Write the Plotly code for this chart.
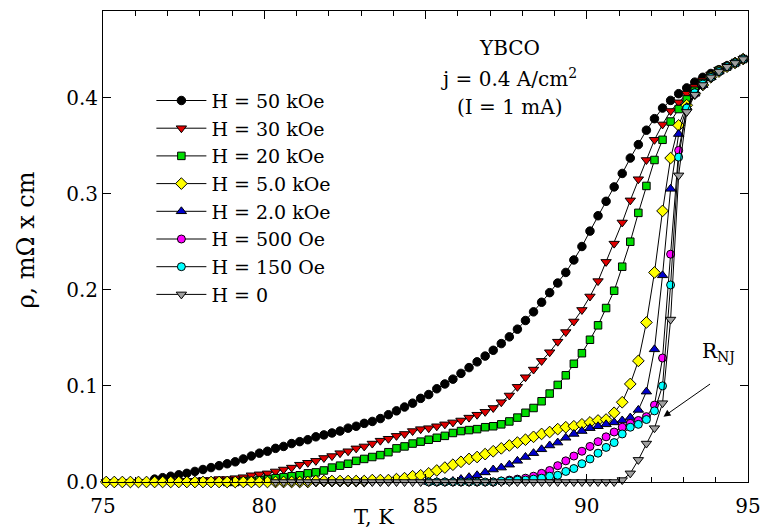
import plotly.graph_objects as go

# ---- data (T in K, rho in mOhm*cm); each series sampled every 0.25 K from its start temperature ----
step = 0.25
labels = ["H = 50 kOe", "H = 30 kOe", "H = 20 kOe", "H = 5.0 kOe",
          "H = 2.0 kOe", "H = 500 Oe", "H = 150 Oe", "H = 0"]
t_start = [76.6, 75.1, 78.85, 75.1, 85.1, 87.1, 85.1, 80.35]

rho_50k = [0.003, 0.0045, 0.006, 0.0075, 0.009, 0.011, 0.013, 0.015, 0.017, 0.019,
           0.021, 0.024, 0.027, 0.030, 0.032, 0.035, 0.037, 0.040, 0.042, 0.044,
           0.047, 0.049, 0.051, 0.053, 0.056, 0.058, 0.061, 0.063, 0.066, 0.070,
           0.074, 0.078, 0.082, 0.087, 0.091, 0.097, 0.102, 0.107, 0.113, 0.119,
           0.125, 0.131, 0.137, 0.144, 0.151, 0.159, 0.168, 0.177, 0.187, 0.197,
           0.207, 0.218, 0.231, 0.245, 0.261, 0.277, 0.292, 0.307, 0.321, 0.337,
           0.351, 0.366, 0.378, 0.389, 0.397, 0.404, 0.410, 0.416, 0.421, 0.425,
           0.429, 0.433, 0.436, 0.440]

rho_30k = [0.000, 0.000, 0.000, 0.000, 0.000, 0.000, 0.000, 0.000, 0.000, 0.001,
           0.001, 0.001, 0.002, 0.002, 0.003, 0.003, 0.004, 0.005, 0.007, 0.008,
           0.009, 0.011, 0.013, 0.015, 0.018, 0.020, 0.022, 0.025, 0.027, 0.030,
           0.032, 0.035, 0.037, 0.040, 0.043, 0.045, 0.048, 0.050, 0.053, 0.055,
           0.056, 0.058, 0.060, 0.062, 0.064, 0.067, 0.070, 0.073, 0.077, 0.083,
           0.090, 0.099, 0.109, 0.117, 0.126, 0.135, 0.146, 0.156, 0.167, 0.179,
           0.193, 0.209, 0.229, 0.248, 0.270, 0.293, 0.315, 0.335, 0.356, 0.372,
           0.386, 0.395, 0.404, 0.411, 0.418, 0.424, 0.429, 0.433, 0.436, 0.440]

rho_20k = [0.000, 0.000, 0.001, 0.001, 0.002, 0.003, 0.004, 0.005, 0.006, 0.007,
           0.009, 0.010, 0.012, 0.015, 0.017, 0.019, 0.022, 0.024, 0.026, 0.028,
           0.031, 0.035, 0.037, 0.040, 0.042, 0.044, 0.046, 0.048, 0.051, 0.053,
           0.054, 0.055, 0.057, 0.058, 0.060, 0.063, 0.067, 0.072, 0.077, 0.084,
           0.092, 0.101, 0.111, 0.123, 0.134, 0.148, 0.163, 0.181, 0.199, 0.224,
           0.250, 0.280, 0.308, 0.335, 0.356, 0.375, 0.388, 0.398, 0.407, 0.415,
           0.422, 0.428, 0.432, 0.436, 0.440]

rho_5k = [0.000, 0.000, 0.000, 0.000, 0.000, 0.000, 0.000, 0.000, 0.000, 0.000,
          0.000, 0.000, 0.000, 0.000, 0.000, 0.000, 0.000, 0.000, 0.000, 0.000,
          0.000, 0.000, 0.000, 0.000, 0.000, 0.000, 0.001, 0.001, 0.001, 0.001,
          0.001, 0.001, 0.001, 0.002, 0.002, 0.002, 0.003, 0.004, 0.006, 0.007,
          0.009, 0.012, 0.015, 0.018, 0.021, 0.024, 0.026, 0.029, 0.032, 0.035,
          0.038, 0.041, 0.044, 0.047, 0.050, 0.052, 0.055, 0.057, 0.058, 0.060,
          0.062, 0.064, 0.065, 0.072, 0.083, 0.102, 0.126, 0.166, 0.218, 0.282,
          0.337, 0.371, 0.392, 0.404, 0.413, 0.421, 0.427, 0.432, 0.436, 0.440]

rho_2k = [0.000, 0.000, 0.000, 0.001, 0.003, 0.005, 0.007, 0.010, 0.013, 0.015,
          0.018, 0.022, 0.026, 0.030, 0.034, 0.038, 0.041, 0.046, 0.050, 0.053,
          0.056, 0.058, 0.060, 0.062, 0.064, 0.067, 0.075, 0.094, 0.138, 0.215,
          0.305, 0.362, 0.390, 0.404, 0.413, 0.421, 0.427, 0.432, 0.436, 0.440]

rho_500 = [0.000, 0.001, 0.002, 0.003, 0.004, 0.006, 0.009, 0.012, 0.017, 0.022,
           0.027, 0.032, 0.037, 0.042, 0.047, 0.052, 0.057, 0.061, 0.064, 0.068,
           0.080, 0.129, 0.237, 0.345, 0.388, 0.404, 0.413, 0.421, 0.427, 0.432,
           0.436, 0.440]

rho_150 = [0.000, 0.000, 0.000, 0.000, 0.000, 0.000, 0.000, 0.000, 0.000, 0.001,
           0.001, 0.002, 0.002, 0.003, 0.004, 0.006, 0.007, 0.011, 0.014, 0.019,
           0.024, 0.030, 0.036, 0.041, 0.050, 0.057, 0.060, 0.065, 0.074, 0.100,
           0.205, 0.338, 0.389, 0.405, 0.414, 0.421, 0.427, 0.432, 0.436, 0.440]

rho_0 = [0.000, 0.000, 0.000, 0.000, 0.000, 0.000, 0.000, 0.000, 0.000, 0.000,
         0.000, 0.000, 0.000, 0.000, 0.000, 0.000, 0.000, 0.000, 0.000, 0.000,
         0.000, 0.000, 0.000, 0.000, 0.000, 0.000, 0.000, 0.000, 0.000, 0.000,
         0.000, 0.000, 0.000, 0.000, 0.000, 0.000, 0.000, 0.000, 0.000, 0.000,
         0.000, 0.000, 0.000, 0.002, 0.009, 0.023, 0.040, 0.056, 0.082, 0.169,
         0.319, 0.385, 0.403, 0.413, 0.421, 0.427, 0.432, 0.436, 0.440]

series = [rho_50k, rho_30k, rho_20k, rho_5k, rho_2k, rho_500, rho_150, rho_0]

symbols = ["circle", "triangle-down", "square", "diamond", "triangle-up",
           "circle", "circle", "triangle-down"]
fills = ["#000000", "#e00000", "#00dd00", "#ffff00", "#0000cc",
         "#ff00ff", "#00ffff", "#a0a0a0"]
sizes = [8.5, 9, 7.5, 9, 9, 8, 8, 9]

FONT = "DejaVu Serif"

fig = go.Figure()
for lab, t0, rho, sym, col, sz in zip(labels, t_start, series, symbols, fills, sizes):
    temps = [round(t0 + step * i, 3) for i in range(len(rho))]
    fig.add_trace(go.Scatter(
        x=temps, y=rho, name=lab, mode="lines+markers",
        line=dict(color="black", width=1),
        marker=dict(symbol=sym, size=sz, color=col, line=dict(color="black", width=1)),
        cliponaxis=False,
    ))

fig.update_layout(
    width=771, height=530,
    margin=dict(l=103, r=12, t=10, b=48),
    paper_bgcolor="white", plot_bgcolor="white",
    font=dict(family=FONT, size=19, color="black"),
    showlegend=True,
    legend=dict(x=0.075, y=0.85, xanchor="left", yanchor="top",
                bgcolor="rgba(0,0,0,0)", itemwidth=50,
                font=dict(family=FONT, size=19), tracegroupgap=0),
    xaxis=dict(range=[75, 95], dtick=5, tick0=75, showline=True, linecolor="black",
               linewidth=1, mirror="ticks", ticks="inside", ticklen=8, tickcolor="black",
               showgrid=False, zeroline=False, ticklabelstandoff=6,
               ticklabeloverflow="allow",
               minor=dict(dtick=1, ticks="inside", ticklen=5, tickcolor="black"),
               tickfont=dict(family=FONT, size=20)),
    yaxis=dict(range=[0, 0.49], dtick=0.1, tick0=0, tickformat=".1f", showline=True,
               linecolor="black", linewidth=1, mirror="ticks", ticks="inside",
               ticklen=8, tickcolor="black", showgrid=False, zeroline=False,
               ticklabeloverflow="allow",
               tickfont=dict(family=FONT, size=20)),
)

ann = dict(showarrow=False, font=dict(family=FONT, size=20, color="black"))
fig.add_annotation(text="T, K", xref="paper", yref="paper", x=0.42, y=-0.075,
                   xanchor="center", yanchor="middle",
                   showarrow=False, font=dict(family=FONT, size=21, color="black"))
fig.add_annotation(text="ρ, mΩ x cm", xref="paper", yref="paper", x=-0.12, y=0.514,
                   xanchor="center", yanchor="middle", textangle=-90,
                   showarrow=False, font=dict(family=FONT, size=24, color="black"))
fig.add_annotation(text="YBCO", xref="paper", yref="paper", x=0.63, y=0.921,
                   xanchor="center", yanchor="middle", **ann)
fig.add_annotation(text="j = 0.4 A/cm<sup>2</sup>", xref="paper", yref="paper", x=0.63,
                   y=0.857, xanchor="center", yanchor="middle", **ann)
fig.add_annotation(text="(I = 1 mA)", xref="paper", yref="paper", x=0.63, y=0.796,
                   xanchor="center", yanchor="middle", **ann)
fig.add_annotation(text="R<sub>NJ</sub>", xref="paper", yref="paper", x=0.955, y=0.275,
                   xanchor="center", yanchor="middle", **ann)
fig.add_annotation(x=92.38, y=0.068, ax=93.87, ay=0.103, xref="x", yref="y",
                   axref="x", ayref="y", text="", showarrow=True, arrowhead=2,
                   arrowsize=1.4, arrowwidth=1, arrowcolor="black")

fig.write_html("out.html")
